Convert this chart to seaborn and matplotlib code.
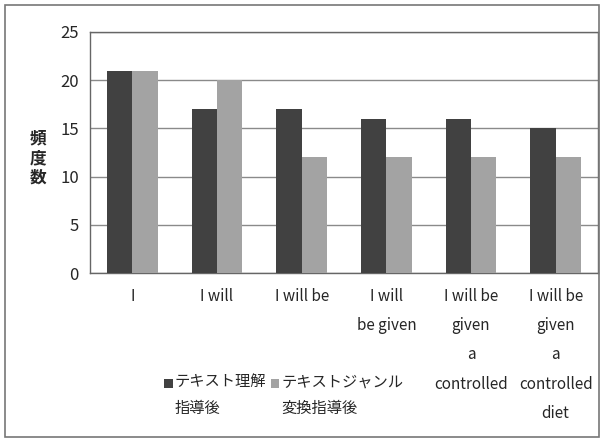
import matplotlib
matplotlib.use("Agg")
import matplotlib.pyplot as plt
import seaborn as sns
import pandas as pd
from matplotlib.patches import Rectangle

categories = ["I", "I will", "I will be", "I will\nbe given",
              "I will be\ngiven\na\ncontrolled", "I will be\ngiven\na\ncontrolled\ndiet"]
series_names = ["テキスト理解\n指導後", "テキストジャンル\n変換指導後"]
dark_values = [21, 17, 17, 16, 16, 15]
light_values = [21, 20, 12, 12, 12, 12]
yticks = [0, 5, 10, 15, 20, 25]

rows = []
for c, v in zip(categories, dark_values):
    rows.append({"cat": c, "series": series_names[0], "val": v})
for c, v in zip(categories, light_values):
    rows.append({"cat": c, "series": series_names[1], "val": v})
df = pd.DataFrame(rows)

sns.set_theme(style="white")
plt.rcParams['font.family'] = ['Noto Sans CJK JP', 'DejaVu Sans']

fig = plt.figure(figsize=(6.04, 4.41), dpi=100)
ax = fig.add_axes([90/604, 1-273/441, 508/604, 241/441])

palette = {series_names[0]: "#414141", series_names[1]: "#a3a3a3"}
sns.barplot(data=df, x="cat", y="val", hue="series", palette=palette,
            width=0.6, ax=ax, saturation=1, legend=True, edgecolor="none", zorder=3)

ax.set_ylim(0, 25)
ax.set_yticks(yticks)
ax.set_yticklabels([str(t) for t in yticks], fontsize=12)
ax.yaxis.grid(True, color="#8a8a8a", linewidth=1.0, zorder=0)
ax.set_axisbelow(True)
ax.set_xlim(-0.5, 5.5)
ax.set_xlabel("")
ax.set_ylabel("")
ax.tick_params(axis="x", length=0, pad=11)
ax.tick_params(axis="y", length=4, direction="out", color="#555555", pad=4)
ax.set_xticks(range(len(categories)))
ax.set_xticklabels(categories, fontsize=11, linespacing=1.93, va="top")
ax.set_xticks([i + 0.5 for i in range(5)], minor=True)
ax.tick_params(axis="x", which="minor", length=5, direction="in", color="#555555", width=1)
for s in ax.spines.values():
    s.set_color("#666666")
    s.set_linewidth(1.0)

leg = ax.get_legend()
handles = leg.legend_handles
leg.remove()
flg = fig.legend(handles, series_names, loc="center", bbox_to_anchor=(284/604, 1-395/441),
                 ncol=2, frameon=False, fontsize=11, handlelength=0.55, handleheight=0.55,
                 handletextpad=0.15, columnspacing=0.3)
for t in flg.get_texts():
    t.set_linespacing(1.75)
for h in flg.legend_handles:
    h.set_y(h.get_y() + 9)

fig.text(38/604, 1-158/441, "頻\n度\n数", fontsize=12, fontweight="bold",
         ha="center", va="center", linespacing=1.1)

fig.patches.append(Rectangle((5/604, 4/441), 594/604, 432/441, transform=fig.transFigure,
                             fill=False, edgecolor="#777777", linewidth=1.2))

fig.savefig("out.png", dpi=100)
